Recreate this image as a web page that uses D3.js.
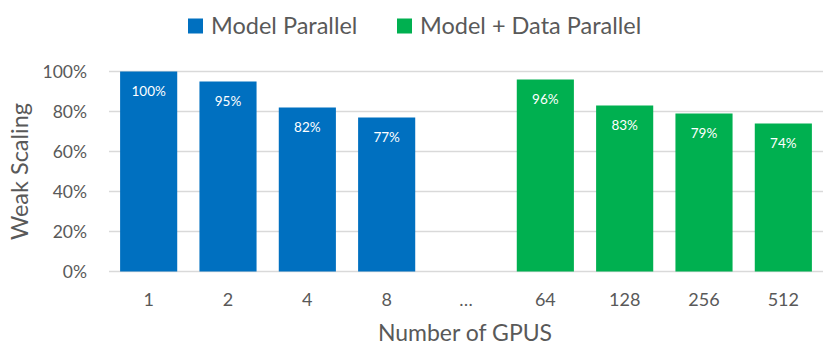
<!DOCTYPE html>
<html>
<head>
<meta charset="utf-8">
<script src="https://cdn.jsdelivr.net/npm/d3@7"></script>
<style>
  body { margin: 0; background: #fff; }
  text { font-family: Lato, "Open Sans", sans-serif; fill: #595959; }
</style>
</head>
<body>
<div id="chart"></div>
<script>
// chart values
const gpus = ["1", "2", "4", "8", "…", "64", "128", "256", "512"]
const modelParallel = [100, 95, 82, 77, null, null, null, null, null]
const modelDataParallel = [null, null, null, null, null, 96, 83, 79, 74]
const yTicks = [0, 20, 40, 60, 80, 100]
const seriesNames = ["Model Parallel", "Model + Data Parallel"]
const colors = ["#0070c0", "#00b050"]

const width = 839
const height = 352
const margin = {top: 71.5, right: 16, bottom: 80.5, left: 109}

const svg = d3.select("#chart")
    .append("svg")
    .attr("width", width)
    .attr("height", height)

const x = d3.scaleBand()
    .domain(gpus)
    .range([margin.left, width - margin.right])
    .paddingInner(0.28)
    .paddingOuter(0.14)

const y = d3.scaleLinear()
    .domain([0, 100])
    .range([height - margin.bottom, margin.top])

// gridlines
svg.append("g")
    .selectAll("line")
    .data(yTicks)
    .join("line")
    .attr("x1", margin.left)
    .attr("x2", width - margin.right)
    .attr("y1", d => y(d))
    .attr("y2", d => y(d))
    .attr("stroke", "#d9d9d9")
    .attr("stroke-width", 1.4)

// y tick labels
svg.append("g")
    .selectAll("text")
    .data(yTicks)
    .join("text")
    .attr("x", 87)
    .attr("y", d => y(d))
    .attr("dy", "0.36em")
    .attr("text-anchor", "end")
    .style("font-size", "17.5px")
    .text(d => d + "%")

// bars, one group per series
const series = [modelParallel, modelDataParallel]
series.forEach(function(values, i) {
    const rows = gpus.map((g, j) => ({g: g, v: values[j]})).filter(d => d.v != null)
    const g = svg.append("g")
    g.selectAll("rect")
        .data(rows)
        .join("rect")
        .attr("x", d => x(d.g))
        .attr("width", x.bandwidth())
        .attr("y", d => y(d.v))
        .attr("height", d => y(0) - y(d.v))
        .attr("fill", colors[i])
    g.selectAll("text")
        .data(rows)
        .join("text")
        .attr("x", d => x(d.g) + x.bandwidth() / 2)
        .attr("y", d => y(d.v) + 20)
        .attr("dy", "0.35em")
        .attr("text-anchor", "middle")
        .style("font-size", "13.5px")
        .style("fill", "#fff")
        .text(d => d.v + "%")
})

// x tick labels
svg.append("g")
    .selectAll("text")
    .data(gpus)
    .join("text")
    .attr("x", d => x(d) + x.bandwidth() / 2)
    .attr("y", 300)
    .attr("dy", "0.36em")
    .attr("text-anchor", "middle")
    .style("font-size", "18px")
    .text(d => d)

// axis titles
svg.append("text")
    .attr("x", 465)
    .attr("y", 333)
    .attr("dy", "0.36em")
    .attr("text-anchor", "middle")
    .style("font-size", "23px")
    .text("Number of GPUS")

svg.append("text")
    .attr("transform", "translate(20," + y(50) + ") rotate(-90)")
    .attr("dy", "0.36em")
    .attr("text-anchor", "middle")
    .style("font-size", "23.5px")
    .text("Weak Scaling")

// legend
const legendX = [188, 397]
const legend = svg.append("g")
    .selectAll("g")
    .data(seriesNames)
    .join("g")
    .attr("transform", (d, i) => "translate(" + legendX[i] + ",26)")
legend.append("rect")
    .attr("x", 0)
    .attr("y", -7.5)
    .attr("width", 15)
    .attr("height", 15)
    .attr("fill", (d, i) => colors[i])
legend.append("text")
    .attr("x", 23)
    .attr("dy", "0.36em")
    .style("font-size", "23.5px")
    .text(d => d)
</script>
</body>
</html>
